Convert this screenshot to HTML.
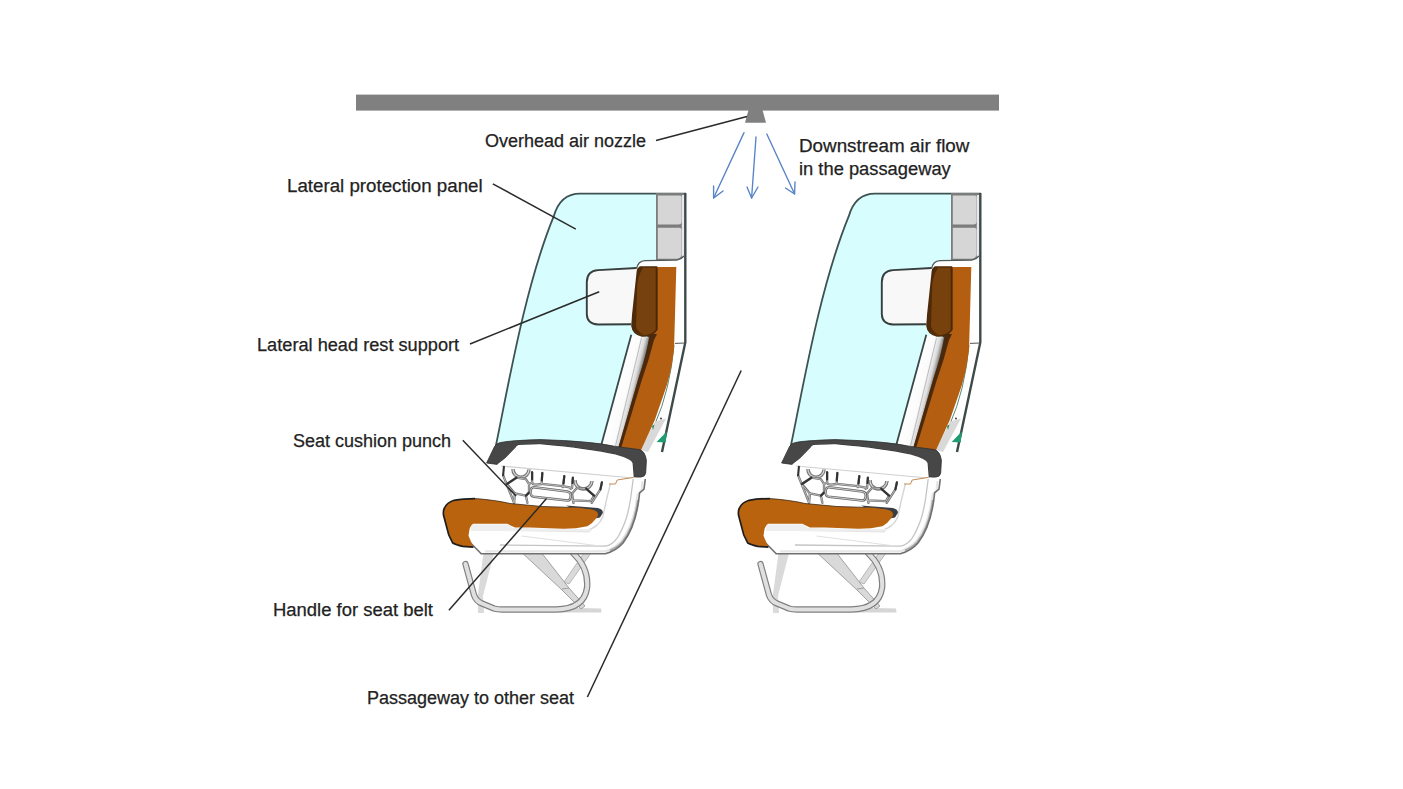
<!DOCTYPE html>
<html><head><meta charset="utf-8">
<style>
html,body{margin:0;padding:0;background:#fff;}
body{width:1403px;height:789px;overflow:hidden;position:relative;}
svg{position:absolute;left:0;top:0;}
.t{position:absolute;font-family:"Liberation Sans",sans-serif;font-size:18px;color:#222;white-space:nowrap;line-height:1;transform-origin:0 0;-webkit-text-stroke:0.25px #222;}
</style></head><body>
<svg width="1403" height="789" viewBox="0 0 1403 789">
<defs>
<linearGradient id="tubeg" gradientUnits="userSpaceOnUse" x1="616" y1="388" x2="636" y2="393">
  <stop offset="0" stop-color="#ffffff"/><stop offset="0.55" stop-color="#fbfbfb"/><stop offset="0.8" stop-color="#d9d9d9"/><stop offset="1" stop-color="#7a7a7a"/>
</linearGradient>
<linearGradient id="shadeg" gradientUnits="userSpaceOnUse" x1="630" y1="388" x2="642" y2="391">
  <stop offset="0" stop-color="#3a2410"/><stop offset="1" stop-color="#8a4c14"/>
</linearGradient>
<g id="seat">
  <!-- legs -->
  <path d="M483.5 553 L494 553 L483 596 L484 613 L478 613 L477.5 598 Z" fill="#dadada"/>
  <path d="M558 607.5 L601 608.5 L601.5 612.5 L558 612.5 Z" fill="#d6d6d6"/>
  <path d="M584 553 L591 553 L569 584 L564 582 Z" fill="#dadada" stroke="#a8a8a8" stroke-width="0.8"/>
  <path d="M522.3 553 L541.7 553 L569 588 L585 606 L581 609 L562 590 Z" fill="#d9d9d9" stroke="#9a9a9a" stroke-width="0.9"/>
  <path d="M562 589 L569 588" stroke="#9a9a9a" stroke-width="0.9"/>
  <g fill="none" stroke-linecap="round" stroke-linejoin="round">
    <path d="M465.5 564 L474 595 Q476 601 482 603.5 L494 608.5 Q497 609.5 502 609.5 L556 609.5 Q584 609 587 588 Q589 568 573 553" stroke="#808080" stroke-width="6.4"/>
    <path d="M465.5 564 L474 595 Q476 601 482 603.5 L494 608.5 Q497 609.5 502 609.5 L556 609.5 Q584 609 587 588 Q589 568 573 553" stroke="#e0e0e0" stroke-width="4"/>
  </g>
  <!-- panel -->
  <path d="M495.4 448 C507.6 390.1 524.3 288.2 553.7 216.4 C557.5 203 566 193.6 580 193.6 L686 193.6 L686 342 L662 450 Z" fill="#d7fdfe"/>
  <path d="M495.4 448 C507.6 390.1 524.3 288.2 553.7 216.4 C557.5 203 566 193.6 580 193.6 L686 193.6" fill="none" stroke="#3f5252" stroke-width="1.8"/>
  <!-- gray boxes -->
  <path d="M656 193 L684 193 L684 258 Q683 261 680 261 L656 261 Z" fill="#7c7c7c"/>
  <path d="M657.8 195.6 L680 195.6 Q681.6 195.6 681.6 197.5 L681.6 221.5 Q681.6 224.5 678.5 224.5 L657.8 224.5 Z" fill="#d6d6d6"/>
  <path d="M657.8 227.8 L679.5 227.8 Q681.6 227.8 681.6 230.5 L681.6 253.5 Q681.6 258.8 676.5 258.8 L657.8 258.8 Z" fill="#d6d6d6"/>
  <rect x="681.8" y="195" width="2.2" height="66" fill="#e8e8e8"/>
  <!-- right white strip -->
  <path d="M674 262 L685.5 262 L685.5 342.4 L662 451 L641 451 L655 420 Q665 390 673 345 Z" fill="#ffffff"/>
  <path d="M685.3 193 L685.3 342.4 L662 452" stroke="#3e4a4a" stroke-width="2.4" fill="none"/>
  <path d="M675 343.4 L685 343" stroke="#555" stroke-width="1" fill="none"/>
  <path d="M674 345 Q670 390 655 424" stroke="#4a7a6a" stroke-width="0.9" fill="none"/>
  <path d="M655 421.5 L666 418.5 L648 452 L640.5 450 Z" fill="#d9d9d9"/>
  <circle cx="661" cy="418.5" r="1" fill="#444"/>
  <path d="M656.6 442 L666.8 431.5 L665.7 442.5 Z" fill="#1f9c74"/>
  <path d="M652 426 L654.5 424.5 L653 430 Z" fill="#2a8a5a"/>
  <!-- top cap -->
  <path d="M636.7 268 Q638 261 645 260.6 L676.8 260.1 Q681 259.5 684 256 L684 268 Z" fill="#ffffff"/>
  <path d="M636.7 268.5 Q638 261 645 260.6 L676.8 260.1 Q681 259.5 684 256" fill="none" stroke="#505a5a" stroke-width="1.4"/>
  <!-- white tube -->
  <path d="M631.3 334.8 L651 338 L623 447 L601 447 Z" fill="url(#tubeg)"/>
  <path d="M631.3 334.8 L601 446" stroke="#3a4848" stroke-width="1.8" fill="none"/>
  <path d="M641.5 338 L615.5 446" stroke="#b5b5b5" stroke-width="0.9" fill="none"/>
  <!-- orange backrest -->
  <path d="M656.5 267 L676.3 267 L675 315 L674 350 Q671 375 663.5 395 L654.8 420 L640.6 451 L617.5 451 L638.5 378 Q646 356 650 336 L652 300 L656.5 267 Z" fill="#b35e10"/>
  <path d="M645 334 L657 334 L654 340 Q649 360 641.5 381 L620.5 450 L617.5 450 L638.5 378 Q646 356 649 338 Z" fill="#3e240c" opacity="0.9"/>
  <!-- dark brown headrest -->
  <path d="M640.3 267 L656.5 267 L656.5 330 Q652 336.5 642 336 Q633 334 632 326 L633.2 290 Q633.5 272 640.3 267 Z" fill="#77410d" stroke="#4e2a08" stroke-width="1.6"/>
  <path d="M633.2 290 Q633.5 272 640.3 267 L643 268 Q637 276 637 292 L636 326 Q637 332 644 335 Q634 334 632 326 Z" fill="#4e2a08"/>
  <path d="M656.8 268 L656.8 330" stroke="#4a2808" stroke-width="1.4"/>
  <!-- headrest support -->
  <path d="M598 270.1 L637 268 L631 324.3 L598 324.5 Q587 324 586.8 314 L586.8 282 Q587 270.8 598 270.1 Z" fill="#f8f8f8"/>
  <path d="M636.7 268 L598 270.1 Q587 270.8 586.8 282 L586.8 314 Q587 324 598 324.5 L631 324.3" fill="none" stroke="#363e3e" stroke-width="1.9"/>
  <!-- armrest -->
  <path d="M486.6 463 L494.7 446.2 Q497 443 500.3 442.6 Q508 440.6 540 439.6 Q590 441 615.3 446.4 L639.4 449.6 Q645 451 646.4 460.3 L645.7 473 Q645 477 640.7 477.1 L633.7 477.1 L632.5 463 Q631 459 615.3 454.6 Q590 448.8 540 444.2 L518.5 445 Q516 446 515.5 447.8 L505.3 458.3 L497.2 464.4 Z" fill="#474747" stroke="#2e2e2e" stroke-width="0.8"/>
  <path d="M497.2 464.4 L505.3 458.3 L515.5 447.8 Q516 446 518.5 445 L540 444.2 Q590 448.8 615.3 454.6 Q631 459 632.5 463 L633.7 477.6 L503 466.5 Z" fill="#ffffff"/>
  <path d="M501 466 L633 478" stroke="#d0d0d0" stroke-width="1.2" fill="none"/>
  <!-- lattice -->
  <g fill="none">
    <path d="M513 469 A8 8 0 0 0 529 469.5" stroke="#7a7a7a" stroke-width="3.6"/>
    <path d="M513 469 A8 8 0 0 0 529 469.5" stroke="#d6d6d6" stroke-width="1.2"/>
    <path d="M575 480 A8.5 8.5 0 0 0 592 481" stroke="#7a7a7a" stroke-width="3.6"/>
    <path d="M575 480 A8.5 8.5 0 0 0 592 481" stroke="#d6d6d6" stroke-width="1.2"/>
  </g>
  <g fill="none" stroke-linecap="round" stroke-linejoin="round">
    <g stroke="#707070" stroke-width="2.3">
      <path d="M503.1 475.3 L514.1 502.8"/>
      <path d="M507 484 L516.5 477.7 L525.9 479.2 L529 484 L529 492.6 L525.9 495.7 L514.9 493.4 Z"/>
      <path d="M532.1 472.2 L532.1 482.4 Q532.5 484.7 536 484.7 L541.6 484 L542.3 473"/>
      <path d="M541.6 483.8 L562.7 486.2 L570.6 487.6"/>
      <path d="M564.3 476.1 L562.7 487.1"/>
      <path d="M572.9 477.7 L572.1 487.9 L570.6 488.7"/>
      <path d="M572.1 493.4 L576.8 487.9 L586.2 488.7 L594.1 495.7 L590.9 501.2 L572.9 500.4 Z"/>
      <path d="M601.9 482.4 L600.4 489.4 L591.7 502.8"/>
      <path d="M514.9 493.4 L514.1 502.8"/>
      <path d="M525.9 495.7 L527.4 502.8"/>
      <path d="M529 484 L532.1 482.4"/>
      <path d="M529 492.6 L530.6 491.8"/>
      <path d="M570.6 494.9 L572.1 493.4"/>
      <path d="M572.9 500.4 L573.5 503"/>
    </g>
    <g stroke="#d4d4d4" stroke-width="0.7">
      <path d="M503.1 475.3 L514.1 502.8"/>
      <path d="M507 484 L516.5 477.7 L525.9 479.2 L529 484 L529 492.6 L525.9 495.7 L514.9 493.4 Z"/>
      <path d="M532.1 472.2 L532.1 482.4 Q532.5 484.7 536 484.7 L541.6 484 L542.3 473"/>
      <path d="M541.6 483.8 L562.7 486.2 L570.6 487.6"/>
      <path d="M564.3 476.1 L562.7 487.1"/>
      <path d="M572.9 477.7 L572.1 487.9 L570.6 488.7"/>
      <path d="M572.1 493.4 L576.8 487.9 L586.2 488.7 L594.1 495.7 L590.9 501.2 L572.9 500.4 Z"/>
      <path d="M601.9 482.4 L600.4 489.4 L591.7 502.8"/>
      <path d="M514.9 493.4 L514.1 502.8"/>
      <path d="M525.9 495.7 L527.4 502.8"/>
      <path d="M529 484 L532.1 482.4"/>
      <path d="M529 492.6 L530.6 491.8"/>
      <path d="M570.6 494.9 L572.1 493.4"/>
      <path d="M572.9 500.4 L573.5 503"/>
    </g>
    <g stroke="#333" stroke-width="2.1">
      <path d="M503.9 466.9 L503.1 475.3"/>
      <path d="M532.1 472.2 L532.1 479.5"/>
      <path d="M542.3 473 L541.8 480.5"/>
      <path d="M564.3 476.1 L563.6 483.5"/>
      <path d="M572.9 477.7 L572.5 483"/>
      <path d="M601.9 482.4 L600.4 489.4"/>
      <path d="M507 484 L516.5 477.7"/>
      <path d="M586.2 488.7 L594.1 495.7"/>
      <path d="M525.9 495.7 L529 492.6"/>
    </g>
  </g>
  <path d="M533.7 487.2 L567.4 491.6 Q571 492.2 570.8 495.6 Q570.4 500.8 567.4 500.6 L533.7 496.7 Q530.4 496.2 530.6 491.9 Q530.9 486.9 533.7 487.2 Z" fill="#fff" stroke="#686868" stroke-width="2.5"/>
  <path d="M533.7 487.2 L567.4 491.6 Q571 492.2 570.8 495.6 Q570.4 500.8 567.4 500.6 L533.7 496.7 Q530.4 496.2 530.6 491.9 Q530.9 486.9 533.7 487.2 Z" fill="none" stroke="#e6e6e6" stroke-width="0.8"/>
  <!-- seat side white frame -->
  <path d="M609 484 L615.5 484 L617.2 480 L633.7 477.4 L645.3 479 L644 489.2 L639.6 493 C638 510 633 530 623 543 Q616 551 605.3 553.8 L481.2 553.8 L468.7 541 L468.7 526.5 L595 527 Q604 520 605 505 Z" fill="#ffffff"/>
  <path d="M642.5 481 L641.5 490.5 L637.5 494.5 C636 510 631 528 621.5 541 Q615 548.5 605 551.3 L485 551.3" fill="none" stroke="#e6e6e6" stroke-width="2.2"/>
  <path d="M638 500 C636 515 632 530 622.5 542 Q617 548 610 550.5" fill="none" stroke="#a9a9a9" stroke-width="2.2"/>
  <path d="M645.3 479 L644 489.2 L639.6 493 C638 510 633 530 623 543 Q616 551 605.3 553.8 L481.2 553.8 L468.7 541" fill="none" stroke="#707070" stroke-width="1.6"/>
  <path d="M633.2 479 L630.7 498 Q628 515 624.4 523.4 Q620 534 616.8 538.6 Q612 545 605.3 546.2 L500 545" fill="none" stroke="#c4c4c4" stroke-width="1.3"/>
  <path d="M610.4 484 Q605 505 602.8 517 Q598 528 585 531" fill="none" stroke="#d5d5d5" stroke-width="1.4"/>
  <path d="M609 484 L615.5 484 L617.2 480 L633.7 477.4" fill="none" stroke="#c58a55" stroke-width="1"/>
  <path d="M521.5 536 L600 546" fill="none" stroke="#e0e0e0" stroke-width="1"/>
  <path d="M471 529 L590 531" fill="none" stroke="#e6e6e6" stroke-width="3"/>
  <!-- orange cushion -->
  <path d="M471 524.5 L507.3 524.5 L514.9 529 L592 529 L592 531 L471 531 Z" fill="#eeeeee"/>
  <path d="M566 505.5 L598 508 Q603.5 509.5 602.8 513 L600 517.5 L592 519 L580 512 Z" fill="#3a3d42"/>
  <path d="M444.5 508 Q447 502.5 454 500.3 Q463 498.6 475 498.6 Q495 500 510 503.5 L542 506.5 L570.9 507.4 Q590 508 596 511 Q600 514 596.4 518 Q593 523 587.4 526.3 Q575 529 562.7 528.8 L529.7 527.6 L514.9 527.5 L507.3 523.8 L473 523.8 Q469.5 525.5 468.5 535.7 L473.4 547.2 L462.7 546.4 Q456 545 452.8 543.1 L448.7 534.8 L443.5 515 Q443 510 444.5 508 Z" fill="#ba630f"/>
  <path d="M475 498.6 Q463 498.6 454 500.3 Q447 502.5 444.5 508 Q443 510 443.5 515 L448.7 534.8 L452.8 543.1 Q456 545 462.7 546.4 L473.4 547.2" fill="none" stroke="#1e1e1e" stroke-width="1.7"/>
  <path d="M475 498.6 Q495 500 510 503.5 L542 506.5 L570.9 507.4" fill="none" stroke="#3a2a1a" stroke-width="0.8"/>
</g>
</defs>
<rect x="356" y="94.6" width="643" height="16" fill="#808080"/>
<path d="M748.5 110 L762.5 110 L766 122.7 L745 122.7 Z" fill="#808080"/>
<g stroke="#5682c6" stroke-width="1.35" fill="none" stroke-linecap="round" stroke-linejoin="round">
  <path d="M744 132.6 L713.6 198"/><path d="M713.6 186 L713.6 198 L723 191"/>
  <path d="M756 137 L751.6 198"/><path d="M747 187 L751.6 198 L758 187"/>
  <path d="M766.8 134 L794.6 194"/><path d="M785.5 188 L794.6 194 L795 182"/>
</g>
<use href="#seat"/>
<use href="#seat" x="295"/>
<g stroke="#2a2a2a" stroke-width="1.5" fill="none">
  <path d="M656 140.6 L747 116.6"/>
  <path d="M492.8 183.8 L575.8 229.1"/>
  <path d="M470 344 L599.2 291.7"/>
  <path d="M462.8 440.3 L516.1 496.1"/>
  <path d="M448.9 610.3 L546.5 498.6"/>
  <path d="M587.4 697 L741.2 370.5"/>
</g>
</svg>
<div class="t" style="left:485px;top:132px">Overhead air nozzle</div>
<div class="t" style="left:799px;top:136.5px;transform:scaleX(1.045)">Downstream air flow</div>
<div class="t" style="left:799px;top:160px;transform:scaleX(1.018)">in the passageway</div>
<div class="t" style="left:287px;top:177px;transform:scaleX(1.04)">Lateral protection panel</div>
<div class="t" style="left:256.5px;top:335.5px;transform:scaleX(1.01)">Lateral head rest support</div>
<div class="t" style="left:293px;top:431.5px">Seat cushion punch</div>
<div class="t" style="left:272.5px;top:601px;transform:scaleX(1.025)">Handle for seat belt</div>
<div class="t" style="left:367px;top:689px">Passageway to other seat</div>
</body></html>
